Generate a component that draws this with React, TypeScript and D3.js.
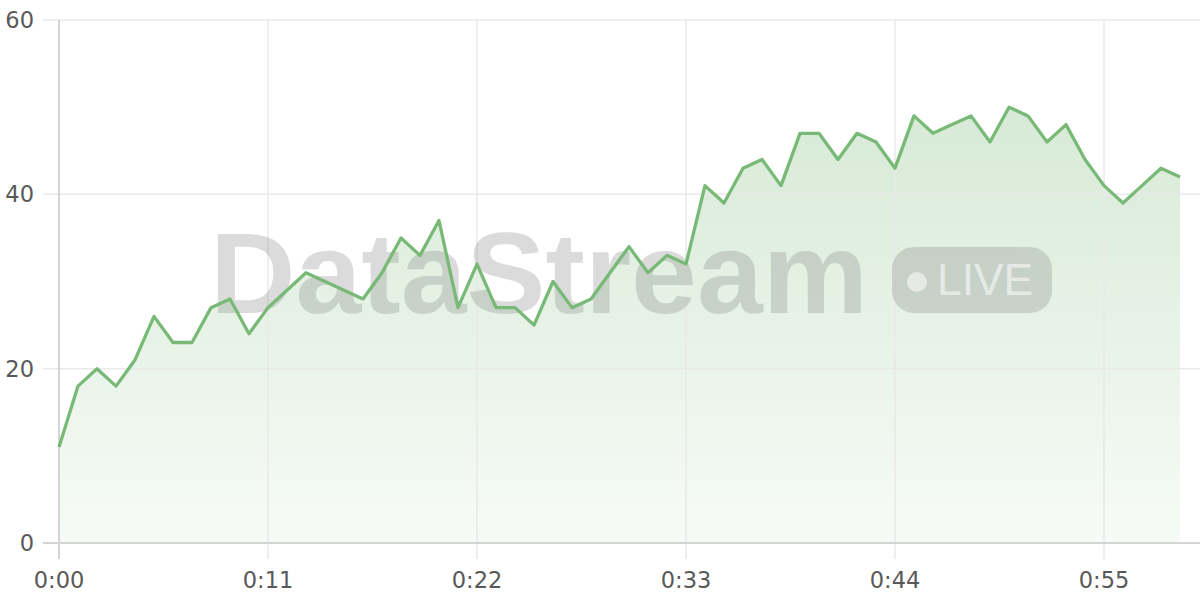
import * as d3 from "d3";

// seconds elapsed, one sample per second
const values: number[] = [
  11, 18, 20, 18, 21, 26, 23, 23, 27, 28, 24, 27, 29, 31, 30, 29, 28, 31, 35, 33,
  37, 27, 32, 27, 27, 25, 30, 27, 28, 31, 34, 31, 33, 32, 41, 39, 43, 44, 41, 47,
  47, 44, 47, 46, 43, 49, 47, 48, 49, 46, 50, 49, 46, 48, 44, 41, 39, 41, 43, 42,
];
const seconds: number[] = values.map((_, i) => i);
const xTicks: number[] = [0, 11, 22, 33, 44, 55];
const yTicks: number[] = [0, 20, 40, 60];

const width = 1200;
const height = 600;
const marginLeft = 59;
const marginRight = 1;
const marginTop = 20;
const marginBottom = 57;

const fmtTime = (s: number) => `${Math.floor(s / 60)}:${String(s % 60).padStart(2, "0")}`;

export default function App() {
  const x = d3.scaleLinear([0, 60], [marginLeft, width - marginRight]);
  const y = d3.scaleLinear([0, 60], [height - marginBottom, marginTop]);

  const line = d3
    .line<number>()
    .x((_, i) => x(seconds[i]))
    .y((d) => y(d));
  const area = d3
    .area<number>()
    .x((_, i) => x(seconds[i]))
    .y0(y(0))
    .y1((d) => y(d));

  const font = "'DejaVu Sans', sans-serif";
  const green = "#79b977";

  return (
    <svg
      width={width}
      height={height}
      style={{ position: "absolute", left: 0, top: 0, background: "#fff" }}
    >
      <defs>
        <linearGradient id="fillGrad" x1="0" y1={y(50)} x2="0" y2={y(0)} gradientUnits="userSpaceOnUse">
          <stop offset="0" stopColor={green} stopOpacity={0.3} />
          <stop offset="1" stopColor={green} stopOpacity={0.06} />
        </linearGradient>
      </defs>

      <path d={area(values) || undefined} fill="url(#fillGrad)" />

      {/* grid */}
      <g stroke="#e9e9e9" strokeWidth={1.5}>
        {yTicks.map((t) => (
          <line key={t} x1={marginLeft - 16} x2={width} y1={y(t)} y2={y(t)} />
        ))}
        {xTicks.map((t) => (
          <line key={t} x1={x(t)} x2={x(t)} y1={marginTop} y2={y(0) + 16} />
        ))}
      </g>

      {/* axes */}
      <g stroke="#d4d4d4" strokeWidth={2}>
        <line x1={marginLeft} x2={marginLeft} y1={marginTop} y2={y(0) + 16} />
        <line x1={marginLeft - 16} x2={width} y1={y(0)} y2={y(0)} />
      </g>

      <g fill="#595959" fontFamily={font} fontSize={22.5}>
        {yTicks.map((t) => (
          <text key={t} x={marginLeft - 25} y={y(t)} dy="0.36em" textAnchor="end">
            {t}
          </text>
        ))}
        {xTicks.map((t) => (
          <text key={t} x={x(t)} y={y(0) + 37} dy="0.36em" textAnchor="middle">
            {fmtTime(t)}
          </text>
        ))}
      </g>

      {/* watermark */}
      <g opacity={0.27}>
        <text
          x={210}
          y={313}
          fontFamily="'Liberation Sans', Arial, sans-serif"
          fontWeight="bold"
          fontSize={115}
          fill="#7d7d7d"
          textLength={658}
          lengthAdjust="spacingAndGlyphs"
        >
          DataStream
        </text>
        <rect x={892} y={247} width={160} height={66} rx={22} fill="#7d7d7d" />
      </g>
      <g fill="#ffffff" opacity={0.55}>
        <circle cx={917} cy={282} r={10} />
        <text
          x={937}
          y={295}
          fontFamily="'Liberation Sans', Arial, sans-serif"
          fontSize={45}
          textLength={96}
          lengthAdjust="spacingAndGlyphs"
        >
          LIVE
        </text>
      </g>

      <path
        d={line(values) || undefined}
        fill="none"
        stroke={green}
        strokeWidth={3.3}
        strokeLinejoin="round"
      />
    </svg>
  );
}
